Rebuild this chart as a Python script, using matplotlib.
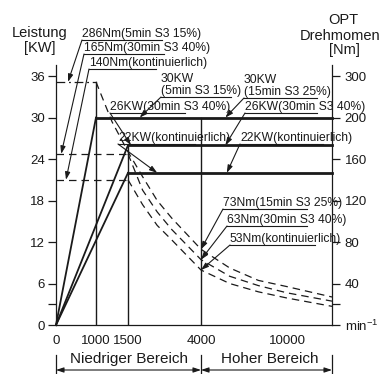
import numpy as np
import matplotlib.pyplot as plt
from matplotlib.lines import Line2D

plt.rcParams['font.family'] = ['Liberation Sans', 'DejaVu Sans']
plt.rcParams['mathtext.fontset'] = 'custom'
plt.rcParams['mathtext.rm'] = 'Liberation Sans'

W, H = 381, 374
INK = '#1a1a1a'

# schematic speed axis: knots in rpm and their spacing along the axis
speed_knots = [0, 1000, 1500, 4000, 10000, 12000]
speed_pos = [0, 40, 72, 145, 231, 276]
speed_ticks = [0, 1000, 1500, 4000, 10000]

# torque axis is tied to the power axis piecewise
torque_knots = [0, 200, 300, 400]
torque_pos = [0, 30, 36, 42]

# power (KW)
power_ticks = [0, 3, 6, 12, 18, 24, 30, 36]
power_level = [30, 26, 22]
power_start = [1000, 1500, 1500]

# torque (Nm) below base speed
base_torque = [286, 165, 140]
base_speed = [1000, 1500, 1500]

# torque curves above base speed
curve_speed = [1000, 1250, 1500, 2000, 2500, 3000, 4000, 6000, 8000, 10000, 12000]
torque_s3_25 = [286, 196, 167, 143, 120, 103, 73, 55, 43, 37, 27]
curve_speed_b = [1500, 2000, 2500, 3000, 4000, 6000, 8000, 10000, 12000]
torque_s3_40 = [165, 130, 109, 92, 63, 47, 38, 31, 23]
torque_cont = [140, 116, 96, 82, 53, 40, 32, 26, 18]


def spd_fwd(n):
    return np.interp(n, speed_knots, speed_pos)


def spd_inv(p):
    return np.interp(p, speed_pos, speed_knots)


def nm_to_kw(t):
    return np.interp(t, torque_knots, torque_pos)


def kw_to_nm(p):
    return np.interp(p, torque_pos, torque_knots)


def fp(x, y):
    # pixel position (from top left) -> figure fraction
    return (x / W, 1 - y / H)


fig = plt.figure(figsize=(W / 100, H / 100), dpi=100)
ax = fig.add_axes([56 / W, 49 / H, 276 / W, 260 / H])
ax.set_xscale('function', functions=(spd_fwd, spd_inv))
ax.set_xlim(0, 12000)
ax.set_ylim(0, 37.6)

for s in ['top', 'right']:
    ax.spines[s].set_visible(False)
for s in ['left', 'bottom']:
    ax.spines[s].set_color(INK)
    ax.spines[s].set_linewidth(0.9)

# power lines: ramp from zero, then constant
for n0, p in zip(power_start, power_level):
    ax.plot([0, n0], [0, p], color=INK, lw=1.3, clip_on=False)
    ax.plot([n0, 12000], [p, p], color=INK, lw=2.0, clip_on=False)

# vertical guides
ax.plot([1000, 1000], [0, nm_to_kw(286)], color=INK, lw=1.0)
ax.plot([1500, 1500], [0, 26], color=INK, lw=1.0)
ax.plot([4000, 4000], [0, 30], color=INK, lw=1.0)

# constant torque up to base speed
ax.plot([0, base_speed[0]], [nm_to_kw(base_torque[0])] * 2, color=INK, lw=0.9,
        dashes=(7, 3, 1.5, 3))
for n0, t0 in zip(base_speed[1:], base_torque[1:]):
    ax.plot([0, n0], [nm_to_kw(t0)] * 2, color=INK, lw=0.9, dashes=(6, 4))

# torque curves
ax.plot(curve_speed, nm_to_kw(torque_s3_25), color=INK, lw=0.9, dashes=(6, 4))
ax.plot(curve_speed_b, nm_to_kw(torque_s3_40), color=INK, lw=0.9, dashes=(6, 4))
ax.plot(curve_speed_b, nm_to_kw(torque_cont), color=INK, lw=0.9, dashes=(6, 4))

# axes ticks
ax.set_yticks(power_ticks, labels=[str(v) if v != 3 else '' for v in power_ticks])
ax.tick_params(axis='y', direction='out', length=6, width=0.9, pad=2,
               labelsize=9.5, colors=INK)
ax.set_xticks(speed_ticks, labels=[str(v) for v in speed_ticks])
ax.tick_params(axis='x', length=0, pad=7, labelsize=9.5, colors=INK)
ax.minorticks_off()

sec = ax.secondary_yaxis('right', functions=(kw_to_nm, nm_to_kw))
sec.spines['right'].set_color(INK)
sec.spines['right'].set_linewidth(0.9)
sec.set_yticks([0, 20, 40, 80, 120, 160, 200, 300],
               labels=['min$^{-1}$', '', '40', '80', '120', '160', '200', '300'])
sec.tick_params(direction='out', length=6, width=0.9, pad=3, labelsize=9.5,
                colors=INK)

# axis titles
fig.text(*fp(40, 37), 'Leistung', ha='center', va='baseline', fontsize=10.5, color=INK)
fig.text(*fp(40, 52), '[KW]', ha='center', va='baseline', fontsize=10.5, color=INK)
fig.text(*fp(343, 24), 'OPT', ha='center', va='baseline', fontsize=10.5, color=INK)
fig.text(*fp(340, 40), 'Drehmomen', ha='center', va='baseline', fontsize=10.5, color=INK)
fig.text(*fp(344, 54), '[Nm]', ha='center', va='baseline', fontsize=10.5, color=INK)

ARROW = dict(arrowstyle='-|>,head_length=0.45,head_width=0.15', color=INK,
             lw=0.8, shrinkA=0, shrinkB=0, mutation_scale=10)


def tag(lines, x, y, ulen, tip):
    # text lines (last baseline at y), underline, leader with arrow to tip
    for i, t in enumerate(lines):
        fig.text(*fp(x, y - 12 * (len(lines) - 1 - i)), t, ha='left',
                 va='baseline', fontsize=8.7, color=INK)
    uy = y + 3
    fig.add_artist(Line2D([x / W, (x + ulen) / W], [1 - uy / H] * 2,
                          color=INK, lw=0.8))
    ax.annotate('', xy=tip, xycoords='data', xytext=fp(x, uy),
                textcoords='figure fraction', arrowprops=ARROW,
                annotation_clip=False)


tag(['286Nm(5min S3 15%)'], 82, 37, 80, (300, nm_to_kw(286)))
tag(['165Nm(30min S3 40%)'], 84, 51, 80, (130, nm_to_kw(165)))
tag(['140Nm(kontinuierlich)'], 89, 66, 67, (250, nm_to_kw(140)))
tag(['30KW', '(5min S3 15%)'], 161, 94, 70, (1900, 30))
tag(['30KW', '(15min S3 25%)'], 244, 95, 73, (5700, 30))
tag(['26KW(30min S3 40%)'], 110, 110, 75, (1600, 26))
tag(['26KW(30min S3 40%)'], 245, 110, 72, (5700, 26))
tag(['22KW(kontinuierlich)'], 118, 141, 77, (2500, 22))
tag(['22KW(kontinuierlich)'], 240, 141, 83, (5800, 22))
tag(['73Nm(15min S3 25%)'], 223, 206, 84, (4000, nm_to_kw(73)))
tag(['63Nm(30min S3 40%)'], 227, 223, 80, (4000, nm_to_kw(63)))
tag(['53Nm(kontinuierlich)'], 230, 242, 85, (4000, nm_to_kw(53)))

# speed ranges below the axis
xt = ax.get_xaxis_transform()
y_bar0, y_bar1, y_arr = -30 / 260, -48 / 260, -45 / 260
for n in [0, 4000, 12000]:
    ax.plot([n, n], [y_bar0, y_bar1], color=INK, lw=0.9, transform=xt, clip_on=False)
RANGE_ARROW = dict(arrowstyle='<|-|>,head_length=0.45,head_width=0.15', color=INK,
                   lw=0.8, shrinkA=0, shrinkB=0, mutation_scale=10)
for a, b, name in [(0, 4000, 'Niedriger Bereich'), (4000, 12000, 'Hoher Bereich')]:
    ax.annotate('', xy=(b, y_arr), xycoords=xt, xytext=(a, y_arr), textcoords=xt,
                arrowprops=RANGE_ARROW, annotation_clip=False)
fig.text(*fp(129, 363), 'Niedriger Bereich', ha='center', va='baseline',
         fontsize=11, color=INK)
fig.text(*fp(270, 363), 'Hoher Bereich', ha='center', va='baseline',
         fontsize=11, color=INK)

fig.savefig('out.png', dpi=100)
